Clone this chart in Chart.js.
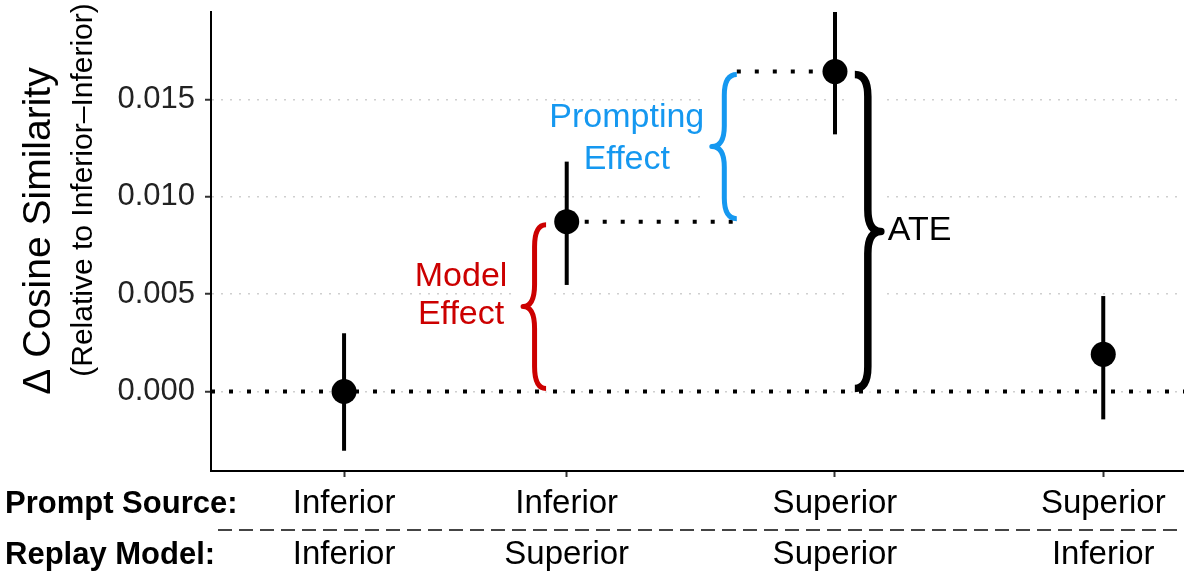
<!DOCTYPE html>
<html>
<head>
<meta charset="utf-8">
<script src="https://cdn.jsdelivr.net/npm/chart.js@4.4.1/dist/chart.umd.min.js"></script>
<style>
  body { margin:0; background:#fff; }
  canvas { display:block; }
</style>
</head>
<body>
<canvas id="chart" width="1184" height="571"></canvas>
<script>
// conditions along the x axis
const promptSource = ["Inferior", "Inferior", "Superior", "Superior"];
const replayModel = ["Inferior", "Superior", "Superior", "Inferior"];
const xPositions = [1, 1.83, 2.83, 3.83];

// delta cosine similarity, relative to Inferior-Inferior
const estimates = [0, 0.00872, 0.01642, 0.00191];
const ciLower = [-0.00304, 0.00547, 0.01320, -0.00143];
const ciUpper = [0.00299, 0.01180, 0.01964, 0.00490];

const yTicks = [0, 0.005, 0.010, 0.015];
const yMin = -0.00408, yMax = 0.01948;
const xMin = 0.504, xMax = 4.131;

const FONT = "'Liberation Sans', Arial, Helvetica, sans-serif";

// brace annotations: which two estimates they span
const braces = [
  { lo: 0, hi: 1, x: 1.753, dir: -1, w: 23, lw: 5, color: "#cc0000",
    text: ["Model", "Effect"], dx: -62, dy: -11, gap: 38, align: "center" },
  { lo: 1, hi: 2, x: 2.464, dir: -1, w: 25, lw: 5, color: "#1598f0",
    text: ["Prompting", "Effect"], dx: -85, dy: -8, gap: 42, align: "center" },
  { lo: 0, hi: 2, x: 2.904, dir: 1, w: 26, lw: 7.5, color: "#000",
    text: ["ATE"], dx: 7, dy: -1, gap: 0, align: "left" }
];

function drawBrace(ctx, xe, y1, y2, w, dir, lw, color){
  const xs = xe + dir * w * 0.5;
  const xt = xe + dir * w;
  const ym = (y1 + y2) / 2;
  const r = Math.min(22, (y2 - y1) / 7);
  ctx.save();
  ctx.strokeStyle = color;
  ctx.lineWidth = lw;
  ctx.lineJoin = "round";
  ctx.beginPath();
  ctx.moveTo(xe, y1);
  ctx.quadraticCurveTo(xs, y1, xs, y1 + r);
  ctx.lineTo(xs, ym - r);
  ctx.quadraticCurveTo(xs, ym, xt, ym);
  ctx.quadraticCurveTo(xs, ym, xs, ym + r);
  ctx.lineTo(xs, y2 - r);
  ctx.quadraticCurveTo(xs, y2, xe, y2);
  ctx.stroke();
  ctx.restore();
}

const annotate = {
  id: "annotate",
  beforeDatasetsDraw(chart){
    const { ctx, chartArea, scales: { x, y } } = chart;
    ctx.save();
    // white bands behind the braces break the grid lines
    ctx.fillStyle = "#fff";
    braces.forEach(b => {
      const xe = x.getPixelForValue(b.x);
      const xt = xe + b.dir * b.w;
      const top = y.getPixelForValue(estimates[b.hi]);
      const bot = y.getPixelForValue(estimates[b.lo]);
      ctx.fillRect(Math.min(xe, xt) - 6, top, Math.abs(xt - xe) + 11, bot - top);
    });
    // error bars
    ctx.beginPath();
    ctx.rect(chartArea.left, chartArea.top, chartArea.right - chartArea.left, chartArea.bottom - chartArea.top);
    ctx.clip();
    ctx.strokeStyle = "#000";
    ctx.lineWidth = 4;
    xPositions.forEach((v, i) => {
      const px = x.getPixelForValue(v);
      ctx.beginPath();
      ctx.moveTo(px, y.getPixelForValue(ciLower[i]));
      ctx.lineTo(px, y.getPixelForValue(ciUpper[i]));
      ctx.stroke();
    });
    ctx.restore();
  },
  afterDatasetsDraw(chart){
    const { ctx, scales: { x, y } } = chart;
    braces.forEach(b => {
      const xe = x.getPixelForValue(b.x);
      const y1 = y.getPixelForValue(estimates[b.hi]) + 3;
      const y2 = y.getPixelForValue(estimates[b.lo]) - 3;
      drawBrace(ctx, xe, y1, y2, b.w, b.dir, b.lw, b.color);
      const tx = xe + b.dir * b.w + b.dx;
      const cy = (y1 + y2) / 2 + b.dy;
      ctx.save();
      ctx.fillStyle = b.color;
      ctx.font = "34px " + FONT;
      ctx.textAlign = b.align;
      ctx.textBaseline = "middle";
      const start = cy - (b.text.length - 1) * b.gap / 2;
      b.text.forEach((t, i) => ctx.fillText(t, tx, start + i * b.gap));
      ctx.restore();
    });
  },
  afterDraw(chart){
    const { ctx, scales: { x } } = chart;
    ctx.save();
    // y axis title
    ctx.fillStyle = "#000";
    ctx.textAlign = "center";
    ctx.textBaseline = "middle";
    ctx.translate(39, 231);
    ctx.rotate(-Math.PI / 2);
    ctx.font = "39px " + FONT;
    ctx.fillText("\u0394 Cosine Similarity", 0, 0);
    ctx.restore();
    ctx.save();
    ctx.translate(84, 190);
    ctx.rotate(-Math.PI / 2);
    ctx.textAlign = "center";
    ctx.textBaseline = "middle";
    ctx.font = "30px " + FONT;
    ctx.fillText("(Relative to Inferior\u2013Inferior)", 0, 0);
    ctx.restore();

    // condition labels under the axis
    ctx.save();
    ctx.fillStyle = "#000";
    ctx.textBaseline = "middle";
    ctx.font = "bold 31px " + FONT;
    ctx.textAlign = "left";
    ctx.fillText("Prompt Source:", 5, 504);
    ctx.fillText("Replay Model:", 5, 555);
    ctx.font = "33px " + FONT;
    ctx.textAlign = "center";
    xPositions.forEach((v, i) => {
      const px = x.getPixelForValue(v);
      ctx.fillText(promptSource[i], px, 504);
      ctx.fillText(replayModel[i], px, 555);
    });
    ctx.strokeStyle = "#444";
    ctx.lineWidth = 2;
    ctx.setLineDash([14, 7]);
    ctx.beginPath();
    ctx.moveTo(218, 530);
    ctx.lineTo(1184, 530);
    ctx.stroke();
    ctx.restore();
  }
};

const dotted = { type: "line", borderColor: "#000", borderWidth: 4, borderDash: [4, 14],
                 pointRadius: 0, showLine: true, order: 2 };

new Chart(document.getElementById("chart"), {
  type: "scatter",
  data: {
    datasets: [
      {
        data: xPositions.map((v, i) => ({ x: v, y: estimates[i] })),
        backgroundColor: "#000",
        borderWidth: 0,
        pointRadius: 12.5,
        order: 0
      },
      { ...dotted, data: [{ x: xMin, y: 0 }, { x: xMax, y: 0 }] },
      { ...dotted, data: [{ x: xPositions[1], y: estimates[1] }, { x: braces[1].x, y: estimates[1] }] },
      { ...dotted, data: [{ x: braces[1].x, y: estimates[2] }, { x: xPositions[2], y: estimates[2] }] }
    ]
  },
  options: {
    responsive: false,
    animation: false,
    layout: { autoPadding: false, padding: { top: 12, right: 0, left: 0, bottom: 0 } },
    plugins: { legend: { display: false }, tooltip: { enabled: false } },
    scales: {
      x: {
        type: "linear", min: xMin, max: xMax,
        afterBuildTicks: s => { s.ticks = xPositions.map(v => ({ value: v })); },
        afterFit: s => { s.height = 100; s.paddingLeft = 0; s.paddingRight = 0; },
        ticks: { display: false },
        grid: { drawOnChartArea: false, drawTicks: true, tickLength: 6, tickColor: "#333", tickWidth: 2 },
        border: { color: "#000", width: 2 }
      },
      y: {
        min: yMin, max: yMax,
        afterBuildTicks: s => { s.ticks = yTicks.map(v => ({ value: v })); },
        afterFit: s => { s.width = 211; s.paddingTop = 0; s.paddingBottom = 0; },
        ticks: { font: { family: FONT, size: 31 }, color: "#222", padding: 10,
                 callback: v => v.toFixed(3) },
        grid: { color: "#cfcfcf", lineWidth: 1.5, tickColor: "#333", tickLength: 6, tickWidth: 2 },
        border: { color: "#000", width: 2, dash: [2, 7] }
      }
    }
  },
  plugins: [annotate]
});
</script>
</body>
</html>
